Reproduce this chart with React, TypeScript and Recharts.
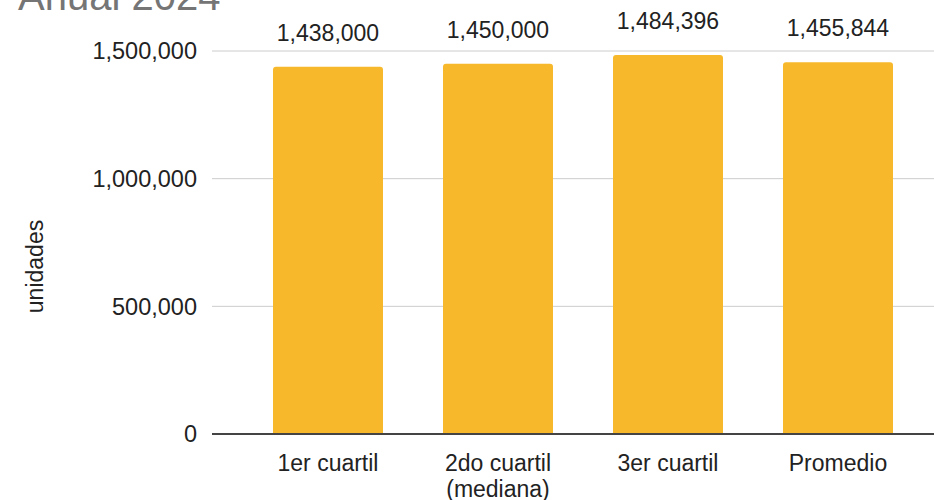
import React from 'react';
import { BarChart, Bar, XAxis, YAxis, CartesianGrid, LabelList, Label } from 'recharts';

const categories = ['1er cuartil', '2do cuartil\n(mediana)', '3er cuartil', 'Promedio'];
const unidades = [1438000, 1450000, 1484396, 1455844];
const yTicks = [0, 500000, 1000000, 1500000];

const data = categories.map((c, i) => ({ categoria: c, unidades: unidades[i] }));

const fmt = (v: number) => v.toLocaleString('en-US');

const CategoryTick = (props: any) => {
    const { x, y, payload } = props;
    const lines = String(payload.value).split('\n');
    return (
        <text x={x} y={y + 29} textAnchor="middle" fill="#222" fontSize={23}>
            {lines.map((l, i) => (
                <tspan key={i} x={x} dy={i === 0 ? 0 : 26}>{l}</tspan>
            ))}
        </text>
    );
};

export default function App() {
    return (
        <div style={{ position: 'absolute', left: 0, top: 0, width: 934, height: 500, overflow: 'hidden', background: '#fff', fontFamily: '"Liberation Sans", Arial, sans-serif' }}>
            <div style={{ position: 'absolute', left: 18, top: -24, fontSize: 40, lineHeight: '40px', color: '#757575', whiteSpace: 'nowrap' }}>
                Anual 2024
            </div>
            <BarChart width={934} height={500} data={data} margin={{ top: 51, right: 0, bottom: 6, left: 0 }}>
                <CartesianGrid vertical={false} stroke="#cccccc" />
                <XAxis
                    dataKey="categoria"
                    height={60}
                    padding={{ left: 31, right: 11 }}
                    axisLine={{ stroke: '#444', strokeWidth: 2 }}
                    tickLine={false}
                    tick={<CategoryTick />}
                    interval={0}
                />
                <YAxis
                    width={212}
                    domain={[0, 1500000]}
                    ticks={yTicks}
                    tickFormatter={fmt}
                    axisLine={false}
                    tickLine={false}
                    tickMargin={9}
                    tick={{ fill: '#222', fontSize: 23.5 }}
                >
                    <Label value="unidades" angle={-90} position="insideLeft" offset={35} dy={24} style={{ fill: '#222', fontSize: 23, textAnchor: 'middle' }} />
                </YAxis>
                <Bar dataKey="unidades" fill="#F7B92B" barSize={110} radius={[3, 3, 0, 0]} isAnimationActive={false}>
                    <LabelList dataKey="unidades" position="top" offset={26} formatter={(v: any) => fmt(Number(v))} style={{ fill: '#222', fontSize: 23 }} />
                </Bar>
            </BarChart>
        </div>
    );
}
